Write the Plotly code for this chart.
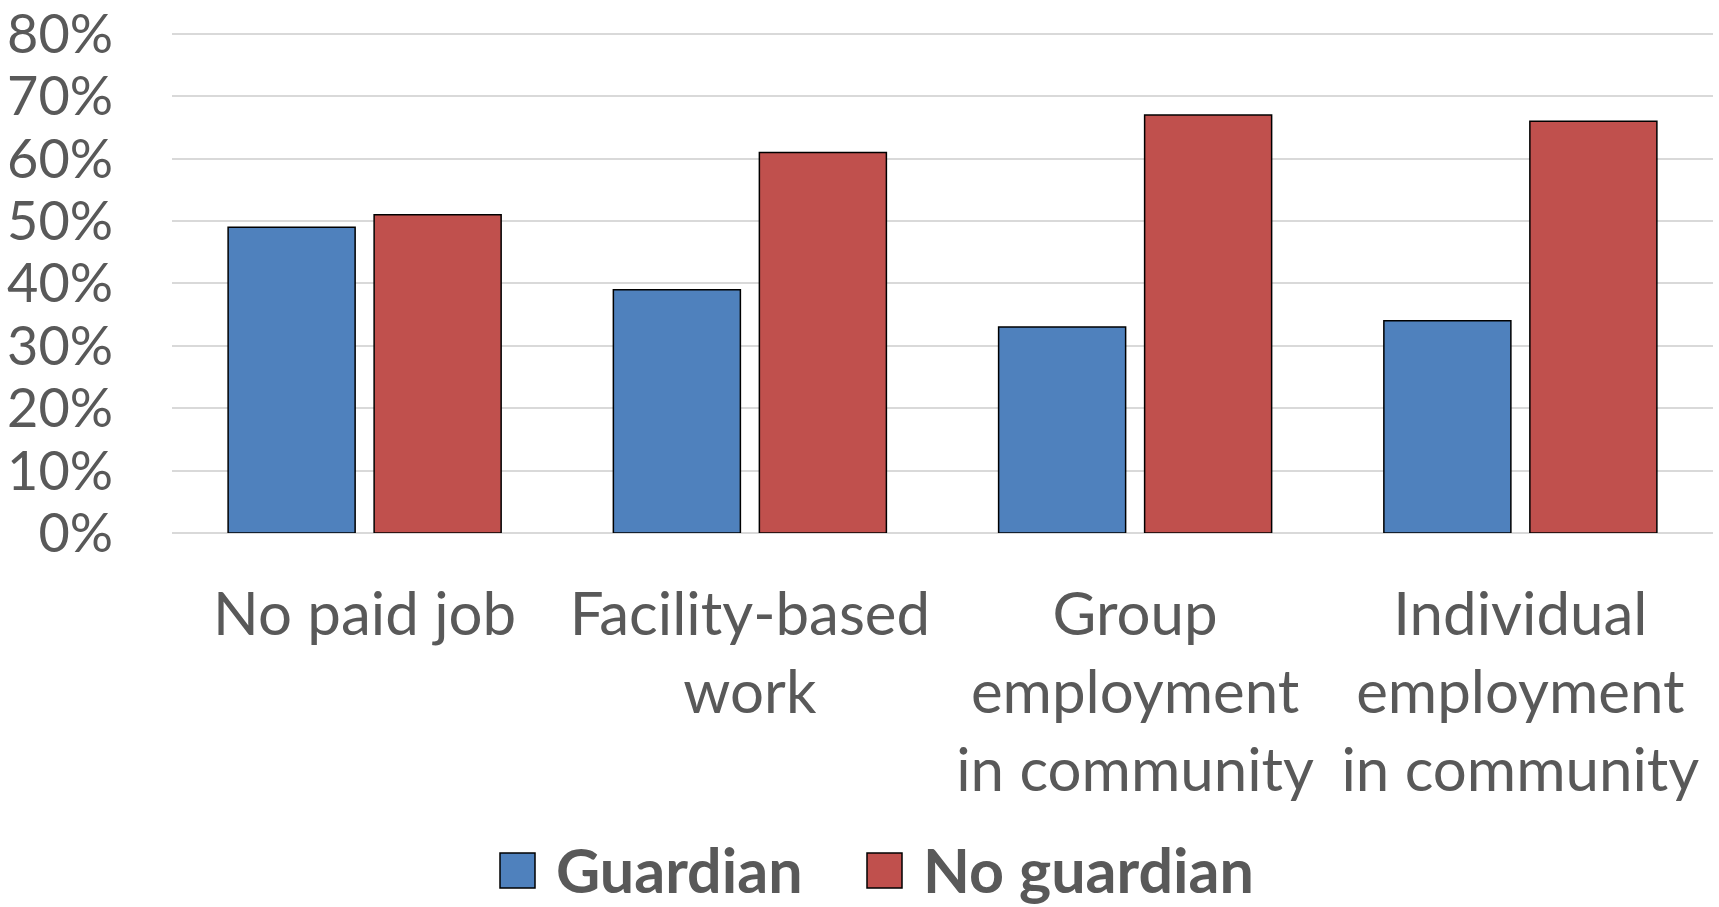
import plotly.graph_objects as go

# Employment outcome by guardianship status (share of respondents, %)
categories = [
    "No paid job",
    "Facility-based<br>work",
    "Group<br>employment<br>in community",
    "Individual<br>employment<br>in community",
]
series_names = ["Guardian", "No guardian"]
guardian = [49, 39, 33, 34]
no_guardian = [51, 61, 67, 66]
y_ticks = [0, 10, 20, 30, 40, 50, 60, 70, 80]
y_tick_labels = [f"{v}%" for v in y_ticks]

colors = ["#4F81BD", "#C0504D"]
text_color = "#595959"
font_family = "Lato, 'Open Sans', sans-serif"

W, H = 1719, 907
M_L, M_R, M_T, M_B = 172, 6, 32, 374
plot_w = W - M_L - M_R
plot_h = H - M_T - M_B


def px_x(x):
    return (x - M_L) / plot_w


def px_y(y):
    return (H - M_B - y) / plot_h


fig = go.Figure()
for name, vals, col in zip(series_names, [guardian, no_guardian], colors):
    fig.add_trace(go.Bar(
        x=categories, y=vals, name=name,
        marker=dict(color=col, line=dict(color="#000000", width=1.5)),
        showlegend=False,
    ))

# Legend drawn as large swatches with bold labels
legend_items = [(500, 554), (867, 921)]
shapes = []
annotations = []
for (sx, tx), name, col in zip(legend_items, series_names, colors):
    shapes.append(dict(
        type="rect", xref="paper", yref="paper",
        x0=px_x(sx), x1=px_x(sx + 35), y0=px_y(888), y1=px_y(853),
        fillcolor=col, line=dict(color="#000000", width=1.5),
    ))
    annotations.append(dict(
        text=f"<b>{name}</b>", xref="paper", yref="paper",
        x=px_x(tx), y=px_y(869), xanchor="left", yanchor="middle",
        showarrow=False, font=dict(size=61, color=text_color, family=font_family),
    ))

fig.update_layout(
    width=W, height=H,
    margin=dict(l=M_L, r=M_R, t=M_T, b=M_B, pad=0, autoexpand=False),
    paper_bgcolor="white", plot_bgcolor="white",
    barmode="group", bargap=0.242, bargroupgap=0.13,
    font=dict(family=font_family, size=54, color=text_color),
    shapes=shapes, annotations=annotations,
    showlegend=False,
)
fig.update_yaxes(
    range=[0, 80.3], tickvals=y_ticks, ticktext=y_tick_labels,
    showgrid=True, gridcolor="#D9D9D9", gridwidth=2,
    zeroline=True, zerolinecolor="#D9D9D9", zerolinewidth=2,
    showline=False, ticks="", ticklabelstandoff=58,
    ticklabeloverflow="allow",
    tickfont=dict(size=54, color=text_color), automargin=False,
)
fig.update_xaxes(
    showline=False, ticks="", ticklabelstandoff=41,
    tickfont=dict(size=60, color=text_color),
    tickangle=0, automargin=False,
)

fig.write_html("out.html")
